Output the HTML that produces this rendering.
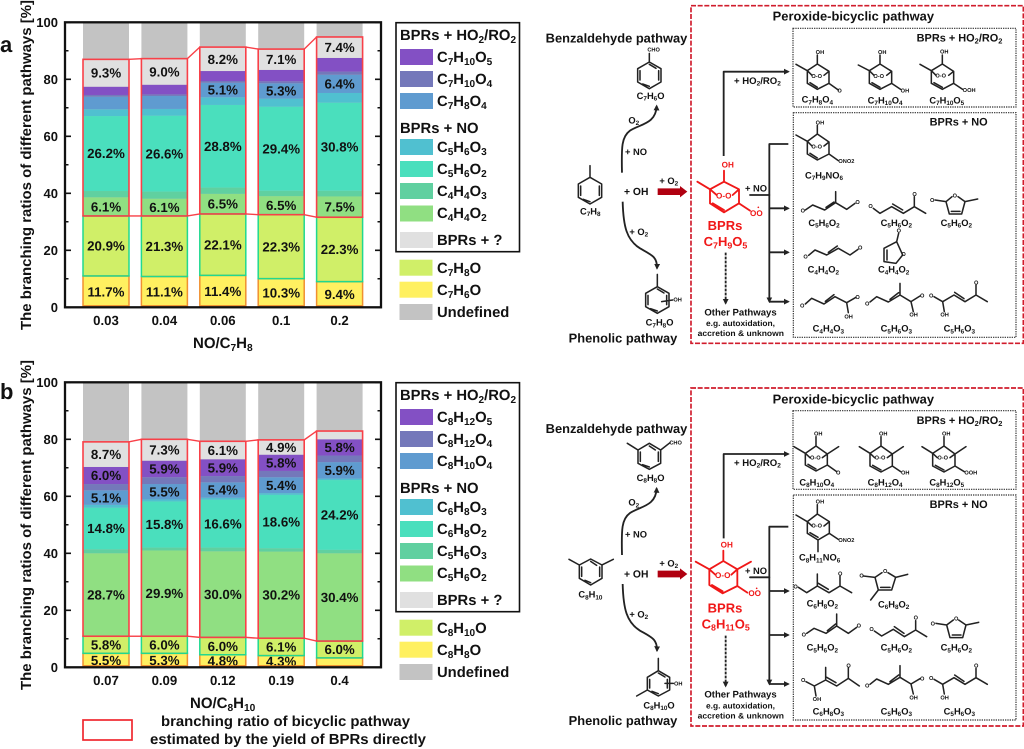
<!DOCTYPE html>
<html lang="en">
<head>
<meta charset="utf-8">
<title>Branching ratios of oxidation pathways</title>
<style>
html,body{margin:0;padding:0;background:#fff;width:1024px;height:749px;overflow:hidden}
svg{display:block;font-family:"Liberation Sans",sans-serif;font-weight:bold;text-rendering:geometricPrecision;filter:blur(0.35px)}
text{fill:#111}
.s{font-size:68%;baseline-shift:-0.28em}
.lg{font-size:14.8px}
.sk{fill:none;stroke:#222;stroke-width:4.6;stroke-linecap:round;stroke-linejoin:round}
.rd{fill:none;stroke:#f01818;stroke-width:5.5;stroke-linecap:round;stroke-linejoin:round}
.ar{fill:none;stroke:#222;stroke-width:5.5;stroke-linejoin:round;marker-end:url(#ah)}
.f28{font-size:28px}.f31{font-size:31px}.f33{font-size:32.8px}.f38{font-size:38.5px}.f16{font-size:17px}.f29{font-size:28.7px}.f25{font-size:24.5px}.f39{font-size:39px;fill:#f01818}
.rt{fill:#f01818}
.red-frame{fill:none;stroke:#d01c2c;stroke-width:5;stroke-dasharray:15 5}
.dot-frame{fill:none;stroke:#333;stroke-width:3.5;stroke-dasharray:4 3}
</style>
</head>
<body>
<svg id="figure" xmlns="http://www.w3.org/2000/svg" width="1024" height="749" viewBox="0 0 1024 749">
<defs>
<marker id="ah" viewBox="0 0 4 4" markerWidth="3.2" markerHeight="3.2" refX="3" refY="2" orient="auto"><path d="M0,0L4,2L0,4Z" fill="#222"/></marker>
</defs>

<g id="panel-a"></g>
<g id="panel-b"></g>

<text x="0" y="52" font-size="22">a</text>
<text x="0" y="399" font-size="22">b</text>

<text transform="translate(31,165) rotate(-90)" text-anchor="middle" font-size="14.6" textLength="330" lengthAdjust="spacingAndGlyphs">The branching ratios of different pathways [%]</text>
<text transform="translate(31,525) rotate(-90)" text-anchor="middle" font-size="14.6" textLength="330" lengthAdjust="spacingAndGlyphs">The branching ratios of different pathways [%]</text>
<text x="193" y="348" font-size="15">NO/C<tspan class="s">7</tspan>H<tspan class="s">8</tspan></text>
<text x="190" y="708" font-size="15">NO/C<tspan class="s">8</tspan>H<tspan class="s">10</tspan></text>

<!-- legend a -->
<g>
<rect x="396" y="22.7" width="123.5" height="229" fill="none" stroke="#111" stroke-width="1.6"/>
<text x="400" y="40" class="lg">BPRs + HO<tspan class="s">2</tspan>/RO<tspan class="s">2</tspan></text>
<rect x="400" y="49" width="33" height="16" fill="#8350c4"/><text x="437" y="62" class="lg">C<tspan class="s">7</tspan>H<tspan class="s">10</tspan>O<tspan class="s">5</tspan></text>
<rect x="400" y="71" width="33" height="16" fill="#7478ba"/><text x="437" y="84" class="lg">C<tspan class="s">7</tspan>H<tspan class="s">10</tspan>O<tspan class="s">4</tspan></text>
<rect x="400" y="93" width="33" height="16" fill="#5f9bd0"/><text x="437" y="106" class="lg">C<tspan class="s">7</tspan>H<tspan class="s">8</tspan>O<tspan class="s">4</tspan></text>
<text x="400" y="133" class="lg">BPRs + NO</text>
<rect x="400" y="139" width="33" height="16" fill="#50c0d0"/><text x="437" y="152" class="lg">C<tspan class="s">5</tspan>H<tspan class="s">6</tspan>O<tspan class="s">3</tspan></text>
<rect x="400" y="161" width="33" height="16" fill="#4adfbd"/><text x="437" y="174" class="lg">C<tspan class="s">5</tspan>H<tspan class="s">6</tspan>O<tspan class="s">2</tspan></text>
<rect x="400" y="183" width="33" height="16" fill="#60d0a0"/><text x="437" y="196" class="lg">C<tspan class="s">4</tspan>H<tspan class="s">4</tspan>O<tspan class="s">3</tspan></text>
<rect x="400" y="205.5" width="33" height="16" fill="#90df82"/><text x="437" y="218" class="lg">C<tspan class="s">4</tspan>H<tspan class="s">4</tspan>O<tspan class="s">2</tspan></text>
<rect x="400" y="232" width="33" height="16" fill="#e0e0e0"/><text x="437" y="245" class="lg">BPRs + ?</text>
<rect x="399.5" y="259.7" width="33" height="16" fill="#d0ef68"/><text x="437" y="273" class="lg">C<tspan class="s">7</tspan>H<tspan class="s">8</tspan>O</text>
<rect x="399.5" y="281.7" width="33" height="16" fill="#fff060"/><text x="437" y="295" class="lg">C<tspan class="s">7</tspan>H<tspan class="s">6</tspan>O</text>
<rect x="399.5" y="304" width="33" height="16" fill="#c3c3c3"/><text x="437" y="317" class="lg">Undefined</text>
</g>

<!-- legend b -->
<g transform="translate(0,360)">
<rect x="396" y="22.7" width="123.5" height="229" fill="none" stroke="#111" stroke-width="1.6"/>
<text x="400" y="40" class="lg">BPRs + HO<tspan class="s">2</tspan>/RO<tspan class="s">2</tspan></text>
<rect x="400" y="49" width="33" height="16" fill="#8350c4"/><text x="437" y="62" class="lg">C<tspan class="s">8</tspan>H<tspan class="s">12</tspan>O<tspan class="s">5</tspan></text>
<rect x="400" y="71" width="33" height="16" fill="#7478ba"/><text x="437" y="84" class="lg">C<tspan class="s">8</tspan>H<tspan class="s">12</tspan>O<tspan class="s">4</tspan></text>
<rect x="400" y="93" width="33" height="16" fill="#5f9bd0"/><text x="437" y="106" class="lg">C<tspan class="s">8</tspan>H<tspan class="s">10</tspan>O<tspan class="s">4</tspan></text>
<text x="400" y="133" class="lg">BPRs + NO</text>
<rect x="400" y="139" width="33" height="16" fill="#50c0d0"/><text x="437" y="152" class="lg">C<tspan class="s">6</tspan>H<tspan class="s">8</tspan>O<tspan class="s">3</tspan></text>
<rect x="400" y="161" width="33" height="16" fill="#4adfbd"/><text x="437" y="174" class="lg">C<tspan class="s">6</tspan>H<tspan class="s">8</tspan>O<tspan class="s">2</tspan></text>
<rect x="400" y="183" width="33" height="16" fill="#60d0a0"/><text x="437" y="196" class="lg">C<tspan class="s">5</tspan>H<tspan class="s">6</tspan>O<tspan class="s">3</tspan></text>
<rect x="400" y="205.5" width="33" height="16" fill="#90df82"/><text x="437" y="218" class="lg">C<tspan class="s">5</tspan>H<tspan class="s">6</tspan>O<tspan class="s">2</tspan></text>
<rect x="400" y="232" width="33" height="16" fill="#e0e0e0"/><text x="437" y="245" class="lg">BPRs + ?</text>
<rect x="399.5" y="259.7" width="33" height="16" fill="#d0ef68"/><text x="437" y="273" class="lg">C<tspan class="s">8</tspan>H<tspan class="s">10</tspan>O</text>
<rect x="399.5" y="281.7" width="33" height="16" fill="#fff060"/><text x="437" y="295" class="lg">C<tspan class="s">8</tspan>H<tspan class="s">8</tspan>O</text>
<rect x="399.5" y="304" width="33" height="16" fill="#c3c3c3"/><text x="437" y="317" class="lg">Undefined</text>
</g>

<!-- bottom key -->
<rect x="83" y="720" width="49" height="20" fill="none" stroke="#f02830" stroke-width="1.7"/>
<text x="161" y="726" font-size="14.5" textLength="249" lengthAdjust="spacingAndGlyphs">branching ratio of bicyclic pathway</text>
<text x="150" y="744" font-size="14.5" textLength="276" lengthAdjust="spacingAndGlyphs">estimated by the yield of BPRs directly</text>

<!-- scheme a -->
<g transform="translate(530,0) scale(0.33333)">
<rect x="483" y="17" width="997" height="1013" class="red-frame"/>
<text x="728" y="62" class="f38" textLength="484" lengthAdjust="spacingAndGlyphs">Peroxide-bicyclic pathway</text>
<text x="47" y="127" class="f38" textLength="425" lengthAdjust="spacingAndGlyphs">Benzaldehyde pathway</text>
<text x="116" y="1027" class="f38" textLength="326" lengthAdjust="spacingAndGlyphs">Phenolic pathway</text>
<rect x="789" y="85" width="669" height="236" class="dot-frame"/>
<rect x="790" y="338" width="668" height="674" class="dot-frame"/>
<text x="1160" y="125" class="f33">BPRs + HO<tspan class="s">2</tspan>/RO<tspan class="s">2</tspan></text>
<text x="1199" y="377" class="f33">BPRs + NO</text>

<path class="sk" d="M180,497V532L215,552V592L180,612L145,592V552L180,532M152,558V586M208,558V586M160,598L180,605"/>
<text x="150" y="643" class="f28">C<tspan class="s">7</tspan>H<tspan class="s">8</tspan></text>
<path class="sk" d="M358,160V186L393,206V246L358,266L323,246V206L358,186M330,212V240M386,212V240M338,252L358,259M358,193L378,205"/>
<text x="352" y="155" class="f16">CHO</text>
<text x="320" y="297" class="f28">C<tspan class="s">7</tspan>H<tspan class="s">6</tspan>O</text>
<path class="sk" d="M382,823V860L417,880V920L382,940L347,920V880L382,860M354,886V914M410,886V914M362,926L382,933M382,867L402,879M395,905L428,900"/>
<text x="430" y="905" class="f16">OH</text>
<text x="347" y="977" class="f28">C<tspan class="s">7</tspan>H<tspan class="s">8</tspan>O</text>

<path class="ar" d="M276,518C274,440 275,410 300,392C330,372 378,372 380,318"/>
<path class="ar" d="M278,605C280,680 290,720 330,745C365,765 382,770 381,805"/>
<path d="M383,565H450V558L472,575L450,592V585H383Z" fill="#b00010"/>
<text x="282" y="585" class="f31">+ OH</text>
<text x="285" y="465" class="f28">+ NO</text>
<text x="295" y="370" class="f28">O<tspan class="s">2</tspan></text>
<text x="388" y="552" class="f28">+ O<tspan class="s">2</tspan></text>
<text x="298" y="705" class="f28">+ O<tspan class="s">2</tspan></text>

<path class="rd" d="M582,512V545L540,568L502,545M582,545L627,568V610L582,637L540,610V568L560,585M627,568L608,585M548,610L582,630M627,610L660,632"/>
<text x="575" y="503" class="f25 rt">OH</text>
<text x="558" y="595" class="f25 rt">O-O</text>
<text x="660" y="648" class="f25 rt">OO</text>
<circle cx="685" cy="622" r="2.5" fill="#f01818"/>
<text x="533" y="690" class="f39">BPRs</text>
<text x="521" y="738" class="f39">C<tspan class="s rt">7</tspan>H<tspan class="s rt">9</tspan>O<tspan class="s rt">5</tspan></text>

<path class="ar" d="M581,468V215H775"/>
<text x="612" y="252" class="f29">+ HO<tspan class="s">2</tspan>/RO<tspan class="s">2</tspan></text>
<text x="645" y="575" class="f28">+ NO</text>
<path class="sk" style="stroke-width:5.5" d="M660,585H718"/>
<path class="ar" d="M775,432H718V905"/>
<path class="ar" d="M718,625H775"/>
<path class="ar" d="M718,757H775"/>
<path class="ar" d="M718,905H775"/>
<path class="ar" style="stroke-dasharray:8 4" d="M587,758V910"/>
<text x="523" y="946" class="f29" textLength="217" lengthAdjust="spacingAndGlyphs">Other Pathways</text>
<text x="528" y="978" class="f25" textLength="207" lengthAdjust="spacingAndGlyphs">e.g. autoxidation,</text>
<text x="503" y="1008" class="f25" textLength="259" lengthAdjust="spacingAndGlyphs">accretion &amp; unknown</text>

<path class="sk" d="M862,165V192L832,212L798,193M862,192L897,214V250L862,268L832,250V212L846,226M897,214L882,226M840,248L862,262M897,250L925,270"/>
<text x="857" y="162" class="f16">OH</text><text x="844" y="234" class="f16">O-O</text><text x="922" y="278" class="f16">O</text>
<text x="815" y="308" class="f28">C<tspan class="s">7</tspan>H<tspan class="s">8</tspan>O<tspan class="s">4</tspan></text>
<path class="sk" d="M1050,165V192L1018,212L985,195M1050,192L1085,214V250L1050,268L1018,250V212L1032,226M1085,214L1070,226M1026,248L1050,262M1085,250L1112,268"/>
<text x="1044" y="162" class="f16">OH</text><text x="1030" y="234" class="f16">O-O</text><text x="1112" y="277" class="f16">OH</text>
<text x="1013" y="310" class="f28">C<tspan class="s">7</tspan>H<tspan class="s">10</tspan>O<tspan class="s">4</tspan></text>
<path class="sk" d="M1237,165V192L1204,212L1170,193M1237,192L1271,214V250L1237,268L1204,250V212L1218,226M1271,214L1256,226M1212,248L1237,262M1271,250L1298,268"/>
<text x="1230" y="160" class="f16">OH</text><text x="1216" y="233" class="f16">O-O</text><text x="1298" y="276" class="f16">OOH</text>
<text x="1198" y="310" class="f28">C<tspan class="s">7</tspan>H<tspan class="s">10</tspan>O<tspan class="s">5</tspan></text>

<path class="sk" d="M862,376V402L832,424L798,405M862,402L897,426V462L862,480L832,462V424L846,438M897,426L882,438M840,460L862,474M897,462L925,482"/>
<text x="857" y="374" class="f16">OH</text><text x="844" y="445" class="f16">O-O</text><text x="925" y="489" class="f16">ONO2</text>
<text x="825" y="535" class="f28">C<tspan class="s">7</tspan>H<tspan class="s">9</tspan>NO<tspan class="s">6</tspan></text>

<path class="sk" d="M826,630L848,615L884,630L917,608L950,628L975,610M917,608V575M888,622L912,606"/>
<text x="812" y="638" class="f16">O</text><text x="976" y="612" class="f16">O</text>
<text x="835" y="678" class="f28">C<tspan class="s">5</tspan>H<tspan class="s">6</tspan>O<tspan class="s">2</tspan></text>
<path class="sk" d="M1030,625L1050,640L1085,620L1120,640L1153,620L1187,640M1153,620V590M1088,612L1118,630"/>
<text x="1015" y="624" class="f16">O</text><text x="1147" y="588" class="f16">O</text>
<text x="1052" y="678" class="f28">C<tspan class="s">5</tspan>H<tspan class="s">6</tspan>O<tspan class="s">2</tspan></text>
<path class="sk" d="M1266,590L1248,605L1258,642H1295L1305,605L1284,590M1305,605L1343,597M1215,600L1248,605M1264,634H1290"/>
<text x="1268" y="592" class="f16">O</text><text x="1200" y="606" class="f16">O</text>
<text x="1232" y="678" class="f28">C<tspan class="s">5</tspan>H<tspan class="s">6</tspan>O<tspan class="s">2</tspan></text>

<path class="sk" d="M836,766L855,750L890,765L925,745L960,765L984,748M895,757L922,738"/>
<text x="820" y="776" class="f16">O</text><text x="984" y="748" class="f16">O</text>
<text x="833" y="818" class="f28">C<tspan class="s">4</tspan>H<tspan class="s">4</tspan>O<tspan class="s">2</tspan></text>
<path class="sk" d="M1100,725L1062,745V785L1098,790L1118,765L1100,725M1100,725L1106,700M1071,750V780"/>
<text x="1100" y="698" class="f16">O</text><text x="1114" y="768" class="f16">O</text>
<text x="1044" y="818" class="f28">C<tspan class="s">4</tspan>H<tspan class="s">4</tspan>O<tspan class="s">2</tspan></text>

<path class="sk" d="M826,912L845,895L882,912L915,890L950,908L978,892M950,908L955,938M886,904L912,884"/>
<text x="810" y="922" class="f16">O</text><text x="976" y="897" class="f16">O</text><text x="943" y="955" class="f16">OH</text>
<text x="848" y="995" class="f28">C<tspan class="s">4</tspan>H<tspan class="s">4</tspan>O<tspan class="s">3</tspan></text>
<path class="sk" d="M1020,906L1040,890L1075,906L1110,885L1143,905L1170,888M1110,885V850M1143,905L1150,935M1080,898L1106,878"/>
<text x="1005" y="916" class="f16">O</text><text x="1170" y="893" class="f16">O</text><text x="1138" y="950" class="f16">OH</text>
<text x="1052" y="995" class="f28">C<tspan class="s">5</tspan>H<tspan class="s">6</tspan>O<tspan class="s">3</tspan></text>
<path class="sk" d="M1212,890L1238,905L1272,885L1305,905L1338,885L1372,905M1338,885V855M1238,905L1243,935M1274,877L1302,896"/>
<text x="1197" y="892" class="f16">O</text><text x="1332" y="854" class="f16">O</text><text x="1231" y="950" class="f16">OH</text>
<text x="1241" y="995" class="f28">C<tspan class="s">5</tspan>H<tspan class="s">6</tspan>O<tspan class="s">3</tspan></text>
</g>

<!-- scheme b -->
<g transform="translate(530,370) scale(0.33333)">
<rect x="483" y="54" width="997" height="1014" class="red-frame"/>
<text x="728" y="100" class="f38" textLength="484" lengthAdjust="spacingAndGlyphs">Peroxide-bicyclic pathway</text>
<text x="47" y="189" class="f38" textLength="425" lengthAdjust="spacingAndGlyphs">Benzaldehyde pathway</text>
<text x="116" y="1065" class="f38" textLength="326" lengthAdjust="spacingAndGlyphs">Phenolic pathway</text>
<rect x="789" y="122" width="669" height="236" class="dot-frame"/>
<rect x="790" y="375" width="668" height="675" class="dot-frame"/>
<text x="1160" y="162" class="f33">BPRs + HO<tspan class="s">2</tspan>/RO<tspan class="s">2</tspan></text>
<text x="1199" y="414" class="f33">BPRs + NO</text>

<path class="sk" d="M117,568L148,585L182,567L216,585V625L182,645L148,625V585M216,585L250,568M155,591V619M209,591V619M165,631L182,638M182,574L200,586"/>
<text x="145" y="683" class="f28">C<tspan class="s">8</tspan>H<tspan class="s">10</tspan></text>
<path class="sk" d="M292,220L324,240L358,220L392,240V280L358,298L324,280V240M392,240L420,218M331,246V274M385,246V274M338,284L358,291M358,228L376,240"/>
<text x="418" y="224" class="f16">CHO</text>
<text x="320" y="333" class="f28">C<tspan class="s">8</tspan>H<tspan class="s">8</tspan>O</text>
<path class="sk" d="M385,865V902L419,922V960L385,978L352,960V922L385,902M352,960L320,978M359,928V954M412,928V954M366,964L385,971M385,909L405,921M405,940L430,940"/>
<text x="432" y="946" class="f16">OH</text>
<text x="340" y="1015" class="f28">C<tspan class="s">8</tspan>H<tspan class="s">10</tspan>O</text>

<path class="ar" d="M276,555C274,477 275,447 300,429C330,409 378,409 380,355"/>
<path class="ar" d="M278,642C280,717 290,757 330,782C365,802 382,807 381,842"/>
<path d="M383,602H450V595L472,612L450,629V622H383Z" fill="#b00010"/>
<text x="282" y="622" class="f31">+ OH</text>
<text x="285" y="502" class="f28">+ NO</text>
<text x="295" y="407" class="f28">O<tspan class="s">2</tspan></text>
<text x="388" y="589" class="f28">+ O<tspan class="s">2</tspan></text>
<text x="298" y="742" class="f28">+ O<tspan class="s">2</tspan></text>

<path class="rd" d="M580,542V573L538,598L497,575M580,573L622,598L663,575M622,598V648L578,670L538,645V598L556,614M622,598L604,614M546,645L578,664M622,648L652,668"/>
<text x="572" y="533" class="f25 rt">OH</text>
<text x="555" y="624" class="f25 rt">O-O</text>
<text x="655" y="678" class="f25 rt">OO</text>
<circle cx="680" cy="655" r="2.5" fill="#f01818"/>
<text x="533" y="727" class="f39">BPRs</text>
<text x="515" y="775" class="f39">C<tspan class="s rt">8</tspan>H<tspan class="s rt">11</tspan>O<tspan class="s rt">5</tspan></text>

<path class="ar" d="M581,505V252H775"/>
<text x="612" y="288" class="f29">+ HO<tspan class="s">2</tspan>/RO<tspan class="s">2</tspan></text>
<text x="645" y="612" class="f28">+ NO</text>
<path class="sk" style="stroke-width:5.5" d="M660,622H718"/>
<path class="ar" d="M775,470H718V942"/>
<path class="ar" d="M718,663H775"/>
<path class="ar" d="M718,795H775"/>
<path class="ar" d="M718,942H775"/>
<path class="ar" style="stroke-dasharray:8 4" d="M587,797V948"/>
<text x="523" y="983" class="f29" textLength="217" lengthAdjust="spacingAndGlyphs">Other Pathways</text>
<text x="528" y="1015" class="f25" textLength="207" lengthAdjust="spacingAndGlyphs">e.g. autoxidation,</text>
<text x="503" y="1045" class="f25" textLength="259" lengthAdjust="spacingAndGlyphs">accretion &amp; unknown</text>

<path class="sk" d="M858,200V228L826,250L792,230M858,228L892,252L926,230M892,252V285L858,303L826,285V250L840,263M892,252L877,263M834,283L858,297M892,285L920,305"/>
<text x="852" y="197" class="f16">OH</text><text x="840" y="268" class="f16">O-O</text><text x="918" y="313" class="f16">O</text>
<text x="808" y="346" class="f28">C<tspan class="s">8</tspan>H<tspan class="s">10</tspan>O<tspan class="s">4</tspan></text>
<path class="sk" d="M1053,200V228L1020,250L988,230M1053,228L1087,252L1120,230M1087,252V288L1053,306L1020,288V250L1034,263M1087,252L1072,263M1028,286L1053,300M1087,288L1112,305"/>
<text x="1047" y="197" class="f16">OH</text><text x="1034" y="268" class="f16">O-O</text><text x="1113" y="313" class="f16">OH</text>
<text x="1013" y="346" class="f28">C<tspan class="s">8</tspan>H<tspan class="s">12</tspan>O<tspan class="s">4</tspan></text>
<path class="sk" d="M1242,200V228L1208,250L1176,230M1242,228L1275,252L1308,230M1275,252V288L1242,306L1208,288V250L1222,263M1275,252L1260,263M1216,286L1242,300M1275,288L1303,305"/>
<text x="1236" y="197" class="f16">OH</text><text x="1222" y="268" class="f16">O-O</text><text x="1303" y="313" class="f16">OOH</text>
<text x="1198" y="346" class="f28">C<tspan class="s">8</tspan>H<tspan class="s">12</tspan>O<tspan class="s">5</tspan></text>

<path class="sk" d="M862,404V432L832,455L798,435M862,432L898,455V490L864,510L832,490V455L846,468M898,455L882,468M840,488L864,502M898,490L925,508M864,510V545"/>
<text x="857" y="401" class="f16">OH</text><text x="844" y="473" class="f16">O-O</text><text x="925" y="516" class="f16">ONO2</text>
<text x="807" y="572" class="f28">C<tspan class="s">8</tspan>H<tspan class="s">11</tspan>NO<tspan class="s">6</tspan></text>

<path class="sk" d="M805,652L830,668L862,648L897,668L930,648L965,668M862,648V612M930,648V618M865,640L895,658"/>
<text x="790" y="656" class="f16">O</text><text x="924" y="616" class="f16">O</text>
<text x="830" y="710" class="f28">C<tspan class="s">6</tspan>H<tspan class="s">8</tspan>O<tspan class="s">2</tspan></text>
<path class="sk" d="M1056,608L1035,622L1045,660H1085L1097,622L1074,608M1097,622L1133,613M1045,660L1022,690M1000,618L1035,622M1052,652H1080"/>
<text x="1059" y="609" class="f16">O</text><text x="988" y="622" class="f16">O</text>
<text x="1044" y="712" class="f28">C<tspan class="s">6</tspan>H<tspan class="s">8</tspan>O<tspan class="s">2</tspan></text>

<path class="sk" d="M830,790L852,775L888,790L920,768L955,790L980,772M920,768V732M892,782L917,762"/>
<text x="815" y="800" class="f16">O</text><text x="980" y="773" class="f16">O</text>
<text x="830" y="842" class="f28">C<tspan class="s">5</tspan>H<tspan class="s">6</tspan>O<tspan class="s">2</tspan></text>
<path class="sk" d="M1033,783L1055,798L1090,778L1123,800L1157,780L1190,800M1157,780V752M1093,770L1122,790"/>
<text x="1018" y="783" class="f16">O</text><text x="1151" y="749" class="f16">O</text>
<text x="1052" y="842" class="f28">C<tspan class="s">5</tspan>H<tspan class="s">6</tspan>O<tspan class="s">2</tspan></text>
<path class="sk" d="M1270,750L1250,765L1260,803H1298L1308,765L1286,750M1308,765L1346,757M1218,760L1250,765M1267,795H1293"/>
<text x="1272" y="751" class="f16">O</text><text x="1202" y="766" class="f16">O</text>
<text x="1232" y="842" class="f28">C<tspan class="s">5</tspan>H<tspan class="s">6</tspan>O<tspan class="s">2</tspan></text>

<path class="sk" d="M828,935L853,948L887,930L920,948L955,925L988,948M887,930V892M955,925V893M853,948L858,978M890,922L918,938"/>
<text x="813" y="936" class="f16">O</text><text x="949" y="892" class="f16">O</text><text x="848" y="993" class="f16">OH</text>
<text x="848" y="1033" class="f28">C<tspan class="s">6</tspan>H<tspan class="s">8</tspan>O<tspan class="s">3</tspan></text>
<path class="sk" d="M1020,943L1040,927L1075,943L1110,922L1143,942L1170,926M1110,922V887M1143,942L1150,972M1080,935L1106,915"/>
<text x="1005" y="953" class="f16">O</text><text x="1170" y="931" class="f16">O</text><text x="1138" y="988" class="f16">OH</text>
<text x="1052" y="1033" class="f28">C<tspan class="s">5</tspan>H<tspan class="s">6</tspan>O<tspan class="s">3</tspan></text>
<path class="sk" d="M1212,928L1238,943L1272,923L1305,943L1338,923L1372,943M1338,923V895M1238,943L1243,972M1274,915L1302,934"/>
<text x="1197" y="930" class="f16">O</text><text x="1332" y="892" class="f16">O</text><text x="1231" y="988" class="f16">OH</text>
<text x="1241" y="1033" class="f28">C<tspan class="s">5</tspan>H<tspan class="s">6</tspan>O<tspan class="s">3</tspan></text>
</g>
</svg>

<script>
// shared axis data
const yTicks = [0, 20, 40, 60, 80, 100];

// panel a data (segment heights, % stacked bottom to top)
const categoriesA = ['0.03', '0.04', '0.06', '0.1', '0.2'];
const c7h6o = [11.0, 10.8, 11.2, 10.05, 9.0];
const c7h8o = [21.05, 21.25, 21.55, 22.45, 22.6];
const c4h4o2 = [6.55, 6.05, 7.05, 6.5, 7.3];
const c4h4o3 = [2.2, 2.5, 2.2, 1.9, 2.0];
const c5h6o2 = [26.3, 26.65, 29.0, 29.5, 30.9];
const c5h6o3 = [2.4, 2.35, 2.7, 2.8, 3.4];
const c7h8o4 = [4.4, 4.55, 5.1, 5.4, 6.4];
const c7h10o4 = [0.6, 0.55, 0.6, 0.7, 1.1];
const c7h10o5 = [2.9, 3.4, 3.5, 4.0, 4.8];
const bprUnknownA = [9.6, 9.15, 8.4, 7.3, 7.35];
const labelsC7h6o = ['11.7%', '11.1%', '11.4%', '10.3%', '9.4%'];
const labelsC7h8o = ['20.9%', '21.3%', '22.1%', '22.3%', '22.3%'];
const labelsC4h4o2 = ['6.1%', '6.1%', '6.5%', '6.5%', '7.5%'];
const labelsC5h6o2A = ['26.2%', '26.6%', '28.8%', '29.4%', '30.8%'];
const labelsC7h8o4 = ['', '', '5.1%', '5.3%', '6.4%'];
const labelsUnknownA = ['9.3%', '9.0%', '8.2%', '7.1%', '7.4%'];
const emptyA = ['', '', '', '', ''];

// panel b data (segment heights, % stacked bottom to top)
const categoriesB = ['0.07', '0.09', '0.12', '0.19', '0.4'];
const c8h8o = [4.9, 4.9, 4.4, 4.1, 3.3];
const c8h10o = [6.0, 6.0, 6.1, 6.1, 5.9];
const c5h6o2b = [29.1, 30.1, 30.2, 30.4, 30.8];
const c5h6o3b = [1.4, 1.0, 1.3, 1.15, 1.2];
const c6h8o2 = [14.6, 16.2, 16.8, 18.75, 24.5];
const c6h8o3 = [1.0, 0.7, 0.7, 0.6, 0.5];
const c8h10o4 = [5.1, 5.4, 5.4, 5.6, 5.8];
const c8h12o4 = [2.2, 2.4, 2.2, 2.2, 2.3];
const c8h12o5 = [6.0, 5.8, 5.9, 5.7, 5.7];
const bprUnknownB = [8.8, 7.5, 6.3, 5.2, 2.9];
const labelsC8h8o = ['5.5%', '5.3%', '4.8%', '4.3%', ''];
const labelsC8h10o = ['5.8%', '6.0%', '6.0%', '6.1%', '6.0%'];
const labelsC5h6o2B = ['28.7%', '29.9%', '30.0%', '30.2%', '30.4%'];
const labelsC6h8o2 = ['14.8%', '15.8%', '16.6%', '18.6%', '24.2%'];
const labelsC8h10o4 = ['5.1%', '5.5%', '5.4%', '5.4%', '5.9%'];
const labelsC8h12o5 = ['6.0%', '5.9%', '5.9%', '5.8%', '5.8%'];
const labelsUnknownB = ['8.7%', '7.3%', '6.1%', '4.9%', ''];
const emptyB = ['', '', '', '', ''];

// stack order, bottom to top
const stackColors = ['#fff060', '#d0ef68', '#90df82', '#60d0a0', '#4adfbd', '#50c0d0', '#5f9bd0', '#7478ba', '#8350c4', '#e0e0e0'];
const stackStrokes = ['#f09030', '#20d890', null, null, null, null, null, null, null, null];
const seriesA = [c7h6o, c7h8o, c4h4o2, c4h4o3, c5h6o2, c5h6o3, c7h8o4, c7h10o4, c7h10o5, bprUnknownA];
const labelsA = [labelsC7h6o, labelsC7h8o, labelsC4h4o2, emptyA, labelsC5h6o2A, emptyA, labelsC7h8o4, emptyA, emptyA, labelsUnknownA];
const seriesB = [c8h8o, c8h10o, c5h6o2b, c5h6o3b, c6h8o2, c6h8o3, c8h10o4, c8h12o4, c8h12o5, bprUnknownB];
const labelsB = [labelsC8h8o, labelsC8h10o, labelsC5h6o2B, emptyB, labelsC6h8o2, emptyB, labelsC8h10o4, emptyB, labelsC8h12o5, labelsUnknownB];

const NS = 'http://www.w3.org/2000/svg';
function mk(parent, tag, attrs) {
  const el = document.createElementNS(NS, tag);
  for (const k in attrs) el.setAttribute(k, attrs[k]);
  parent.appendChild(el);
  return el;
}

function drawPanel(root, offsetY, clipId, categories, series, labels) {
  const left = 65, right = 381, top = 22.3 + offsetY, bottom = 307.3 + offsetY;
  const yScale = v => bottom - (v / 100) * (bottom - top);
  const xScale = i => 106 + i * 58.4;
  const barW = 46;

  const clip = mk(root, 'clipPath', { id: clipId });
  mk(clip, 'rect', { x: left, y: top, width: right - left, height: bottom - top - 2 });

  const marks = mk(root, 'g', {});
  const textLayer = mk(root, 'g', { 'clip-path': 'url(#' + clipId + ')' });
  const bicyclicTops = [], bicyclicBottoms = [];

  categories.forEach((cat, i) => {
    const cx = xScale(i), x = cx - barW / 2;
    const undef = mk(marks, 'rect', { x: x, y: top, width: barW, height: bottom - top, fill: '#c3c3c3' });
    
    
    let base = 0;
    const outlines = [];
    series.forEach((vals, s) => {
      const y1 = yScale(base + vals[i]), y0 = yScale(base);
      const seg = mk(marks, 'rect', { x: x, y: y1, width: barW, height: y0 - y1, fill: stackColors[s] });
      
      
      if (stackStrokes[s]) outlines.push({ y: y1, h: y0 - y1 - (s === 0 ? 1.5 : 0), c: stackStrokes[s] });
      const lab = labels[s][i];
      if (lab) {
        const t = mk(textLayer, 'text', { x: cx, y: (y0 + y1) / 2 + 4.7, 'text-anchor': 'middle', 'font-size': 13.3 });
        t.textContent = lab;
        
        
      }
      base += vals[i];
      if (s === 1) bicyclicBottoms.push(y1);
      if (s === series.length - 1) bicyclicTops.push(y1);
    });
    outlines.forEach(o => {
      const box = mk(marks, 'rect', { x: x, y: o.y, width: barW, height: o.h, fill: 'none', stroke: o.c, 'stroke-width': 1.5 });
      
      
    });
  });

  const redLayer = mk(root, 'g', {});
  categories.forEach((cat, i) => {
    const cx = xScale(i), x = cx - barW / 2;
    const box = mk(redLayer, 'rect', { x: x, y: bicyclicTops[i], width: barW, height: bicyclicBottoms[i] - bicyclicTops[i], fill: 'none', stroke: '#f84048', 'stroke-width': 1.6 });
    
    
    if (i < categories.length - 1) {
      const nx = xScale(i + 1) - barW / 2;
      const lineTop = mk(redLayer, 'line', { x1: x + barW, y1: bicyclicTops[i], x2: nx, y2: bicyclicTops[i + 1], stroke: '#f84048', 'stroke-width': 1.4 });
      
      
      const lineBot = mk(redLayer, 'line', { x1: x + barW, y1: bicyclicBottoms[i], x2: nx, y2: bicyclicBottoms[i + 1], stroke: '#f84048', 'stroke-width': 1.4 });
      
      
    }
    const xt = mk(root, 'text', { x: cx, y: bottom + 17.5, 'text-anchor': 'middle', 'font-size': 13.2 });
    xt.textContent = cat;
    
    
  });

  yTicks.forEach((v, i) => {
    const y = yScale(v);
    const t = mk(root, 'text', { x: 58, y: y + 4.7, 'text-anchor': 'end', 'font-size': 13 });
    t.textContent = String(v);
    
    
    const major = mk(root, 'path', { d: 'M' + left + ',' + y + 'h6M' + right + ',' + y + 'h-6', stroke: '#111', 'stroke-width': 1.7 });
    
    
    if (i < yTicks.length - 1) {
      const my = yScale((v + yTicks[i + 1]) / 2);
      const minor = mk(root, 'path', { d: 'M' + left + ',' + my + 'h3.5M' + right + ',' + my + 'h-3.5', stroke: '#111', 'stroke-width': 1.5 });
      
      
    }
  });

  const frame = mk(root, 'rect', { x: left, y: top, width: right - left, height: bottom - top, fill: 'none', stroke: '#111', 'stroke-width': 2.3 });
  
  
}

drawPanel(document.getElementById('panel-a'), 0, 'clip-a', categoriesA, seriesA, labelsA);
drawPanel(document.getElementById('panel-b'), 360, 'clip-b', categoriesB, seriesB, labelsB);
</script>
</body>
</html>
